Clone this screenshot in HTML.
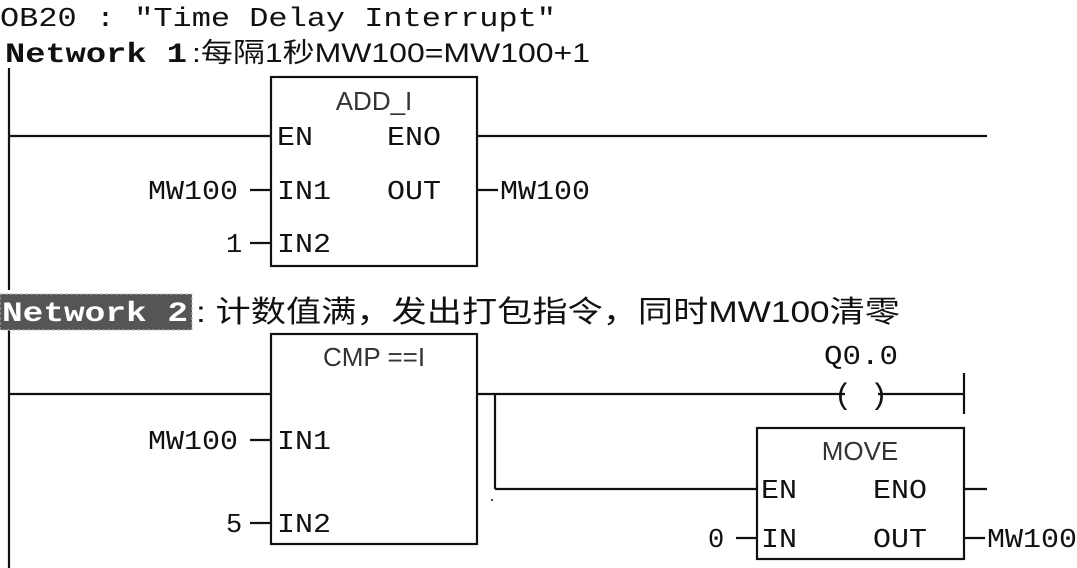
<!DOCTYPE html>
<html><head><meta charset="utf-8"><style>
html,body{margin:0;padding:0;background:#fff;}
svg{display:block;}
.m{font-family:"Liberation Mono","Noto Sans CJK SC",monospace;fill:#111;}
.s{font-family:"Liberation Sans",sans-serif;fill:#333;}
.c{font-family:"Liberation Sans","Noto Sans CJK SC",sans-serif;fill:#111;}
</style></head><body>
<svg width="1077" height="568" viewBox="0 0 1077 568" xmlns="http://www.w3.org/2000/svg">
<g stroke="#111" stroke-width="2.2" fill="none">
<line x1="9" y1="68" x2="9" y2="290"/>
<line x1="9" y1="136" x2="271" y2="136"/>
<line x1="477" y1="136" x2="987" y2="136"/>
<rect x="271" y="77" width="206" height="189"/>
<line x1="250" y1="190" x2="271" y2="190"/>
<line x1="477" y1="190" x2="498" y2="190"/>
<line x1="250" y1="243" x2="271" y2="243"/>
<line x1="9" y1="330" x2="9" y2="568"/>
<line x1="9" y1="394" x2="271" y2="394"/>
<rect x="271" y="334" width="206" height="210"/>
<line x1="477" y1="394" x2="845" y2="394"/>
<line x1="878" y1="394" x2="964" y2="394"/>
<line x1="964" y1="373" x2="964" y2="414"/>
<line x1="495" y1="394" x2="495" y2="489"/>
<line x1="495" y1="489" x2="757" y2="489"/>
<rect x="757" y="428" width="207" height="131"/>
<line x1="964" y1="489" x2="987" y2="489"/>
<line x1="964" y1="538" x2="985" y2="538"/>
<line x1="736" y1="538" x2="757" y2="538"/>
<line x1="250" y1="440" x2="271" y2="440"/>
<line x1="250" y1="523" x2="271" y2="523"/>
</g>
<text x="0" y="26" class="m" font-size="27" textLength="556" lengthAdjust="spacingAndGlyphs">OB20 :  "Time Delay Interrupt"</text>
<text x="5" y="62" class="m" font-size="28" font-weight="bold" textLength="182" lengthAdjust="spacingAndGlyphs">Network 1</text>
<text x="192" y="62" class="c" font-size="27" textLength="398" lengthAdjust="spacingAndGlyphs">:每隔1秒MW100=MW100+1</text>
<rect x="0" y="294" width="192" height="36" fill="#555" stroke="#bbb" stroke-dasharray="3,2"/>
<text x="2" y="321" class="m" font-size="28" font-weight="bold" style="fill:#fff" textLength="186" lengthAdjust="spacingAndGlyphs">Network 2</text>
<text x="196" y="322" class="c" font-size="30" textLength="704" lengthAdjust="spacingAndGlyphs">: 计数值满，发出打包指令，同时MW100清零</text>
<text x="374" y="110" class="s" font-size="26" text-anchor="middle">ADD_I</text>
<text x="277" y="145" class="m" font-size="27" textLength="36" lengthAdjust="spacingAndGlyphs">EN</text>
<text x="387" y="145" class="m" font-size="27" textLength="54" lengthAdjust="spacingAndGlyphs">ENO</text>
<text x="277" y="199" class="m" font-size="27" textLength="54" lengthAdjust="spacingAndGlyphs">IN1</text>
<text x="387" y="199" class="m" font-size="27" textLength="54" lengthAdjust="spacingAndGlyphs">OUT</text>
<text x="277" y="252" class="m" font-size="27" textLength="54" lengthAdjust="spacingAndGlyphs">IN2</text>
<text x="148" y="199" class="m" font-size="27" textLength="90" lengthAdjust="spacingAndGlyphs">MW100</text>
<text x="226" y="252" class="m" font-size="27">1</text>
<text x="500" y="199" class="m" font-size="27" textLength="90" lengthAdjust="spacingAndGlyphs">MW100</text>
<text x="374" y="366" class="s" font-size="26" text-anchor="middle">CMP ==I</text>
<text x="277" y="449" class="m" font-size="27" textLength="54" lengthAdjust="spacingAndGlyphs">IN1</text>
<text x="277" y="532" class="m" font-size="27" textLength="54" lengthAdjust="spacingAndGlyphs">IN2</text>
<text x="148" y="449" class="m" font-size="27" textLength="90" lengthAdjust="spacingAndGlyphs">MW100</text>
<text x="226" y="532" class="m" font-size="27">5</text>
<text x="824" y="364" class="m" font-size="27" textLength="74" lengthAdjust="spacingAndGlyphs">Q0.0</text>
<text x="861" y="404" class="m" font-size="30" text-anchor="middle">( )</text>
<text x="860" y="460" class="s" font-size="26" text-anchor="middle">MOVE</text>
<text x="761" y="498" class="m" font-size="27" textLength="36" lengthAdjust="spacingAndGlyphs">EN</text>
<text x="873" y="498" class="m" font-size="27" textLength="54" lengthAdjust="spacingAndGlyphs">ENO</text>
<text x="761" y="547" class="m" font-size="27" textLength="36" lengthAdjust="spacingAndGlyphs">IN</text>
<text x="873" y="547" class="m" font-size="27" textLength="54" lengthAdjust="spacingAndGlyphs">OUT</text>
<text x="708" y="547" class="m" font-size="27">0</text>
<text x="987" y="547" class="m" font-size="27" textLength="90" lengthAdjust="spacingAndGlyphs">MW100</text>
<circle cx="492" cy="500" r="1" fill="#111"/>
</svg>
</body></html>
